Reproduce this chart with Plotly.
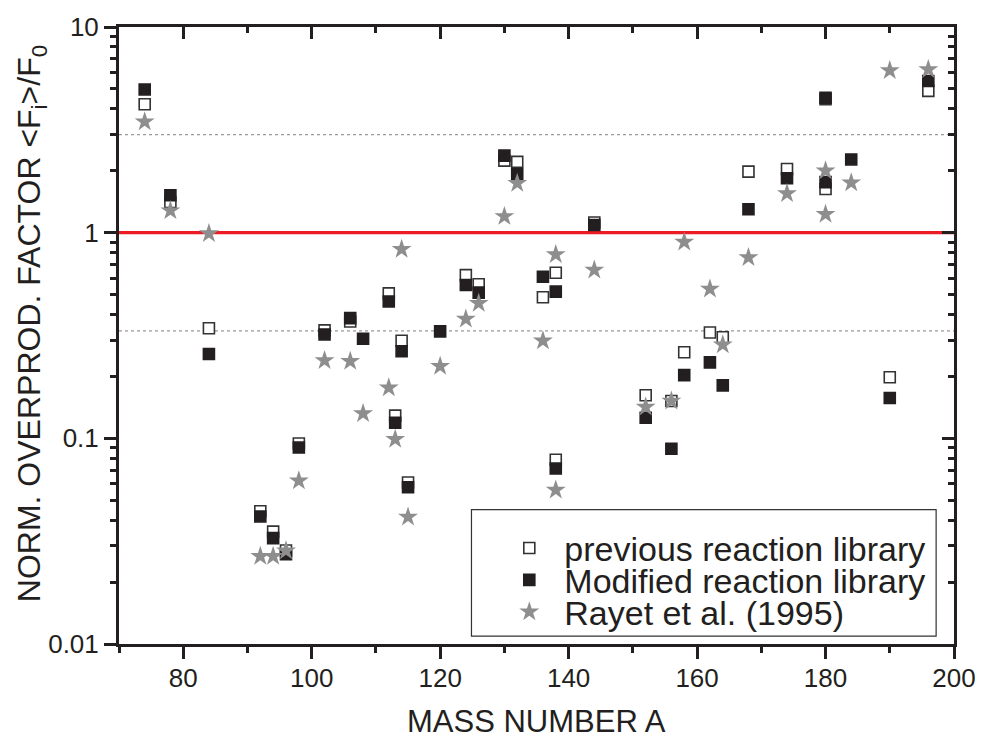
import plotly.graph_objects as go

# ---------------- data ----------------
A_prev = [74, 78, 84, 92, 94, 96, 98, 102, 106, 112, 113, 114, 115, 124, 126, 130, 132, 136,
          138, 138, 144, 152, 156, 158, 162, 164, 168, 174, 180, 180, 190, 196]
F_prev = [4.21, 1.41, 0.343, 0.0442, 0.0352, 0.0285, 0.0944, 0.335, 0.37, 0.507, 0.129, 0.298,
          0.061, 0.622, 0.561, 2.24, 2.21, 0.485, 0.638, 0.0787, 1.12, 0.162, 0.152, 0.262,
          0.327, 0.31, 1.98, 2.04, 4.45, 1.63, 0.198, 4.89]

A_mod = [74, 78, 84, 92, 94, 96, 98, 102, 106, 108, 112, 113, 114, 115, 120, 124, 126, 130, 132,
         136, 138, 138, 144, 152, 156, 158, 162, 164, 168, 174, 180, 180, 184, 190, 196]
F_mod = [4.97, 1.52, 0.257, 0.0417, 0.0327, 0.0273, 0.0902, 0.32, 0.384, 0.305, 0.463, 0.119,
         0.265, 0.0578, 0.331, 0.557, 0.511, 2.37, 1.93, 0.61, 0.517, 0.0713, 1.09, 0.126,
         0.089, 0.203, 0.234, 0.181, 1.30, 1.84, 4.53, 1.76, 2.27, 0.157, 5.46]

A_rayet = [74, 78, 84, 92, 94, 96, 98, 102, 106, 108, 112, 113, 114, 115, 120, 124, 126, 130, 132,
           136, 138, 138, 144, 152, 156, 158, 162, 164, 168, 174, 180, 180, 184, 190, 196]
F_rayet = [3.46, 1.28, 0.99, 0.0267, 0.0267, 0.0284, 0.0622, 0.239, 0.237, 0.132, 0.176, 0.099,
           0.83, 0.0414, 0.224, 0.38, 0.454, 1.20, 1.74, 0.298, 0.783, 0.0561, 0.658, 0.142,
           0.152, 0.90, 0.532, 0.285, 0.757, 1.55, 2.0, 1.23, 1.75, 6.15, 6.22]

NAMES = ["previous reaction library", "Modified reaction library", "Rayet et al. (1995)"]
X_RANGE = [70, 200]
Y_TICKS = [0.01, 0.1, 1, 10]
Y_TICKTEXT = ["0.01", "0.1", "1", "10"]
X_TICKS = [80, 100, 120, 140, 160, 180, 200]
UNITY = 1.0
BAND = [3.0, 1.0 / 3.0]

# ---------------- styling ----------------
FONT = "Liberation Sans, Arial, Helvetica, sans-serif"
INK = "#231f20"
GRAY = "#8e8e8e"
minor_y = [m * d for d in (0.01, 0.1, 1) for m in range(2, 10)]
log_range = [-2, 1]

fig = go.Figure()

# reference lines
for lvl in BAND:
    fig.add_trace(go.Scatter(x=X_RANGE, y=[lvl, lvl], mode="lines", showlegend=False,
                             hoverinfo="skip",
                             line=dict(color="#9a9a9a", width=1.2, dash="dot")))
fig.add_trace(go.Scatter(x=X_RANGE, y=[UNITY, UNITY], mode="lines", showlegend=False,
                         hoverinfo="skip", line=dict(color="#ed1c24", width=3.2)))

fig.add_trace(go.Scatter(x=A_prev, y=F_prev, mode="markers", name=NAMES[0], legend="legend",
                         marker=dict(symbol="square", size=11, color="white",
                                     line=dict(color="#333333", width=1.6))))
fig.add_trace(go.Scatter(x=A_mod, y=F_mod, mode="markers", name=NAMES[1], legend="legend2",
                         marker=dict(symbol="square", size=11, color=INK,
                                     line=dict(color=INK, width=1.6))))
fig.add_trace(go.Scatter(x=A_rayet, y=F_rayet, mode="markers", name=NAMES[2], legend="legend3",
                         marker=dict(symbol="star", size=15, color=GRAY,
                                     line=dict(width=0))))
# helper (empty) trace for the mirrored top/right axes with inward ticks
fig.add_trace(go.Scatter(x=[], y=[], xaxis="x2", yaxis="y2", showlegend=False))

L, R, T, B = 119, 28, 24, 96
W, H = 988, 740
pw, ph = W - L - R, H - T - B


def px2paper_x(px):
    return (px - L) / pw


def px2paper_y(py):
    return (H - B - py) / ph


axis_common = dict(showgrid=False, zeroline=False, linecolor=INK, linewidth=3,
                   tickcolor=INK, tickwidth=2.5,
                   tickfont=dict(family=FONT, size=26, color=INK))

fig.update_layout(
    width=W, height=H,
    margin=dict(l=L, r=R, t=T, b=B),
    paper_bgcolor="white", plot_bgcolor="white",
    font=dict(family=FONT, color=INK),
    xaxis=dict(range=X_RANGE, tickvals=X_TICKS, ticks="outside", ticklen=12,
               mirror=True, showline=True, ticklabelstandoff=-3,
               minor=dict(dtick=10, tick0=0, ticks="outside", ticklen=6, tickwidth=2.5,
                          tickcolor=INK, showgrid=False),
               **axis_common),
    yaxis=dict(type="log", range=log_range, tickvals=Y_TICKS, ticktext=Y_TICKTEXT,
               ticks="outside", ticklen=12, mirror=True, showline=True,
               minor=dict(tickvals=minor_y, ticks="outside", ticklen=6, tickwidth=2.5,
                          tickcolor=INK, showgrid=False),
               **axis_common),
    xaxis2=dict(range=X_RANGE, overlaying="x", side="top", anchor="y2", tickvals=X_TICKS,
                ticks="inside", ticklen=12, showticklabels=False, showline=False,
                minor=dict(dtick=10, tick0=0, ticks="inside", ticklen=6, tickwidth=2.5,
                           tickcolor=INK, showgrid=False),
                **{k: v for k, v in axis_common.items() if k != "tickfont"}),
    yaxis2=dict(type="log", range=log_range, overlaying="y", side="right", anchor="x2",
                tickvals=Y_TICKS, ticks="inside", ticklen=12, showticklabels=False,
                showline=False,
                minor=dict(tickvals=minor_y, ticks="inside", ticklen=6, tickwidth=2.5,
                           tickcolor=INK, showgrid=False),
                **{k: v for k, v in axis_common.items() if k != "tickfont"}),
    showlegend=True,
)

leg_common = dict(xanchor="left", yanchor="middle", bgcolor="rgba(0,0,0,0)", borderwidth=0,
                  font=dict(family=FONT, size=34, color=INK), itemwidth=60,
                  itemsizing="trace")
rows = [548, 580, 612]
LEG_X = 497
fig.update_layout(
    legend=dict(x=px2paper_x(LEG_X), y=px2paper_y(rows[0]), **leg_common),
    legend2=dict(x=px2paper_x(LEG_X), y=px2paper_y(rows[1]), **leg_common),
    legend3=dict(x=px2paper_x(LEG_X), y=px2paper_y(rows[2]), **leg_common),
)

# legend frame
fig.add_shape(type="rect", xref="paper", yref="paper",
              x0=px2paper_x(474), x1=px2paper_x(942), y0=px2paper_y(636), y1=px2paper_y(509),
              line=dict(color="#333333", width=1.2), fillcolor="rgba(0,0,0,0)", layer="above")

# axis titles
fig.add_annotation(text="MASS NUMBER A", xref="paper", yref="paper",
                   x=0.5, y=px2paper_y(722), xanchor="center", yanchor="middle",
                   showarrow=False, font=dict(family=FONT, size=31, color=INK))
fig.add_annotation(text="NORM. OVERPROD. FACTOR &lt;F<sub>i</sub>&gt;/F<sub>0</sub>",
                   xref="paper", yref="paper", textangle=-90,
                   x=px2paper_x(31), y=px2paper_y(322), xanchor="center", yanchor="middle",
                   showarrow=False, font=dict(family=FONT, size=32, color=INK))

fig.write_html("out.html")
